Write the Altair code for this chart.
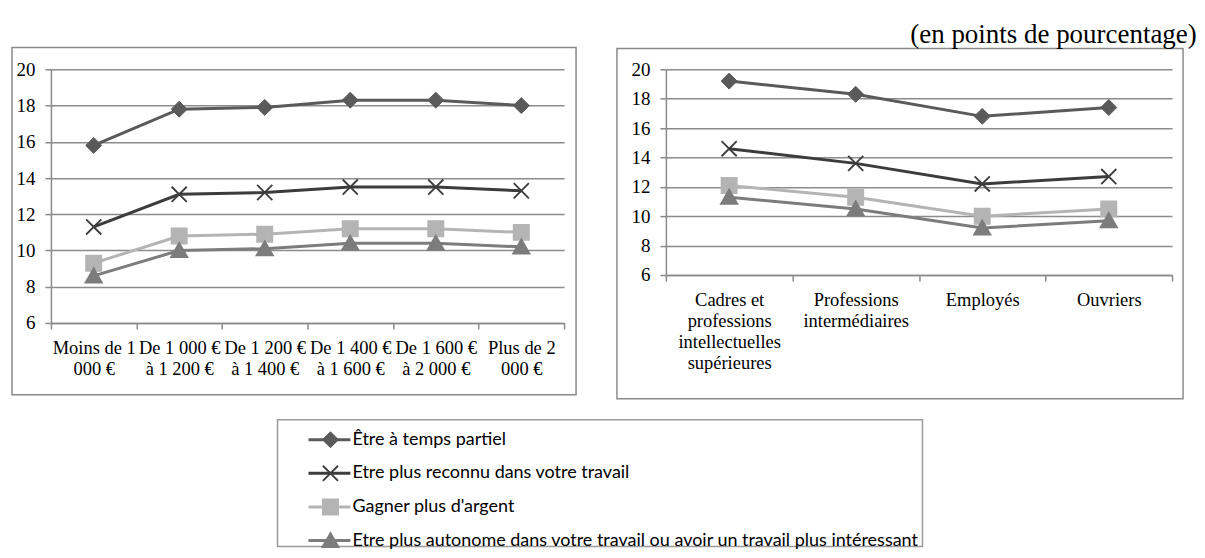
import altair as alt
import pandas as pd

series = [
    "Être à temps partiel",
    "Etre plus reconnu dans votre travail",
    "Gagner plus d'argent",
    "Etre plus autonome dans votre travail ou avoir un travail plus intéressant",
]
colors = ["#5a5a5a", "#3c3c3c", "#b4b4b4", "#7c7c7c"]
shapes = ["diamond", "M-1,-1L1,1M-1,1L1,-1", "square", "triangle-up"]

income_labels = [
    "Moins de 1|000 €",
    "De 1 000 €|à 1 200 €",
    "De 1 200 €|à 1 400 €",
    "De 1 400 €|à 1 600 €",
    "De 1 600 €|à 2 000 €",
    "Plus de 2|000 €",
]
inc_partiel = [15.8, 17.8, 17.9, 18.3, 18.3, 18.0]
inc_reconnu = [11.3, 13.1, 13.2, 13.5, 13.5, 13.3]
inc_argent = [9.3, 10.8, 10.9, 11.2, 11.2, 11.0]
inc_autonome = [8.6, 10.0, 10.1, 10.4, 10.4, 10.2]

csp_labels = [
    "Cadres et|professions|intellectuelles|supérieures",
    "Professions|intermédiaires",
    "Employés",
    "Ouvriers",
]
csp_partiel = [19.2, 18.3, 16.8, 17.4]
csp_reconnu = [14.6, 13.6, 12.2, 12.7]
csp_argent = [12.1, 11.3, 10.0, 10.5]
csp_autonome = [11.3, 10.5, 9.2, 9.7]

y_ticks = [6, 8, 10, 12, 14, 16, 18, 20]
subtitle = "(en points de pourcentage)"

SERIF = "Liberation Serif"


def long_df(cats, cols):
    rows = []
    for s, vals in zip(series, cols):
        for i, (c, v) in enumerate(zip(cats, vals)):
            rows.append({"cat": c, "idx": i, "series": s, "value": v})
    return pd.DataFrame(rows)


color_enc = alt.Color("series:N", scale=alt.Scale(domain=series, range=colors), legend=None)
stroke_enc = alt.Stroke("series:N", scale=alt.Scale(domain=series, range=colors), legend=None)
shape_enc = alt.Shape("series:N", scale=alt.Scale(domain=series, range=shapes), legend=None)


def panel(df, cats, w, h, box):
    x = alt.X(
        "cat:N",
        sort=cats,
        bandPosition=0.5,
        scale=alt.Scale(type="band", paddingInner=0, paddingOuter=0),
        axis=alt.Axis(
            title=None,
            labelExpr="split(datum.label, '|')",
            tickBand="extent",
            labelAngle=0,
            labelPadding=10,
            labelLineHeight=21,
            labelBaseline="top",
            labelOverlap=False,
            labelFont=SERIF,
            labelFontSize=18.5,
            grid=False,
        ),
    )
    y = alt.Y(
        "value:Q",
        scale=alt.Scale(domain=[6, 20], nice=False, zero=False),
        axis=alt.Axis(
            title=None, values=y_ticks, grid=True, labelPadding=10,
            labelFont=SERIF, labelFontSize=19,
        ),
    )
    base = alt.Chart(df)
    lines = base.mark_line(strokeWidth=3).encode(
        x=x, y=y, color=color_enc, order=alt.Order("idx:Q")
    )
    pts = base.mark_point(filled=True, opacity=1).encode(
        x=x,
        y=y,
        color=color_enc,
        stroke=stroke_enc,
        shape=shape_enc,
        size=alt.Size("series:N", scale=alt.Scale(domain=series, range=[256, 180, 220, 230]), legend=None),
        strokeWidth=alt.StrokeWidth("series:N", scale=alt.Scale(domain=series, range=[1, 3.5, 1, 1]), legend=None),
    )
    frame = alt.Chart(pd.DataFrame({"k": [0]})).mark_rect(
        fillOpacity=0, stroke="#8a8a8a", strokeWidth=1.5
    ).encode(
        x=alt.value(box[0]), x2=alt.value(box[1]), y=alt.value(box[2]), y2=alt.value(box[3])
    )
    return alt.layer(frame, lines, pts).properties(width=w, height=h)


left = panel(
    long_df(income_labels, [inc_partiel, inc_reconnu, inc_argent, inc_autonome]),
    income_labels, 514, 254, (-39, 526, -22, 326),
)
right = panel(
    long_df(csp_labels, [csp_partiel, csp_reconnu, csp_argent, csp_autonome]),
    csp_labels, 507, 206, (-49, 518, -21, 330),
)

leg_df = pd.DataFrame({"series": series, "row": [0, 1, 2, 3]})
ly = alt.Y("row:Q", scale=alt.Scale(domain=[0, 3], range=[34, 135]), axis=None)
lbase = alt.Chart(leg_df)
l_rule = lbase.mark_rule(strokeWidth=3).encode(
    x=alt.value(258), x2=alt.value(300), y=ly, color=color_enc
)
l_pts = lbase.mark_point(filled=True, opacity=1).encode(
    x=alt.value(280),
    y=ly,
    color=color_enc,
    stroke=stroke_enc,
    shape=shape_enc,
    size=alt.Size("series:N", scale=alt.Scale(domain=series, range=[56, 40, 50, 50]), legend=None),
    strokeWidth=alt.StrokeWidth("series:N", scale=alt.Scale(domain=series, range=[1, 2.5, 1, 1]), legend=None),
)
l_text = lbase.mark_text(
    align="left", baseline="middle", font="Lato", fontSize=18, color="black"
).encode(x=alt.value(302), y=ly, text="series:N")
l_frame = alt.Chart(pd.DataFrame({"k": [0]})).mark_rect(
    fillOpacity=0, stroke="#9a9a9a", strokeWidth=1.5
).encode(x=alt.value(227), x2=alt.value(873), y=alt.value(14), y2=alt.value(141))
legend = alt.layer(l_frame, l_rule, l_pts, l_text).properties(width=1133, height=141)

chart = alt.vconcat(
    alt.hconcat(left, right, spacing=39),
    legend,
    spacing=6,
    title=alt.Title(
        subtitle,
        anchor="end",
        dx=13,
        fontSize=27,
        font=SERIF,
        fontWeight="normal",
        color="black",
        offset=-2,
        baseline="top",
    ),
).properties(
    padding={"left": 3, "top": 12, "right": 0, "bottom": 0}
).configure_view(
    strokeWidth=0
).configure_axis(
    labelColor="black",
    tickColor="#8a8a8a",
    tickSize=6,
    tickWidth=1.5,
    domainColor="#8a8a8a",
    domainWidth=1.5,
    gridColor="#8c8c8c",
    gridWidth=1.5,
)

chart.save("out.html", embed_options={"renderer": "svg", "actions": False})
